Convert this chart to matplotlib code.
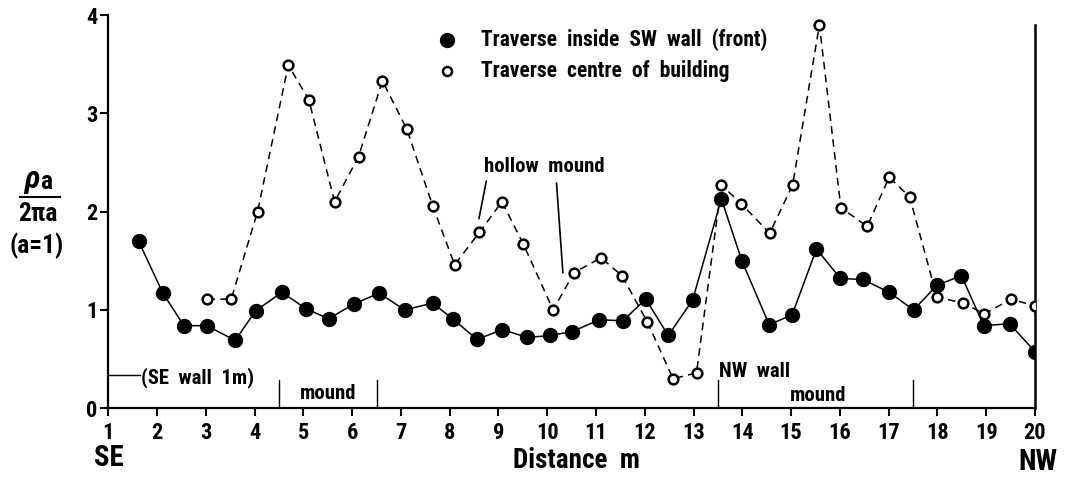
import matplotlib
matplotlib.use("Agg")
import matplotlib.pyplot as plt
from matplotlib import font_manager

# ---------------- data ----------------
front_x = [1.62, 2.12, 2.55, 3.02, 3.60, 4.02, 4.56, 5.06, 5.52, 6.03, 6.55, 7.08, 7.65,
           8.06, 8.56, 9.08, 9.59, 10.06, 10.51, 11.07, 11.55, 12.02, 12.48, 12.98, 13.57,
           13.99, 14.55, 15.02, 15.52, 16.01, 16.47, 17.01, 17.51, 17.99, 18.49, 18.95,
           19.48, 20.01]
front_y = [1.70, 1.17, 0.84, 0.84, 0.69, 0.99, 1.18, 1.01, 0.91, 1.06, 1.17, 1.00, 1.07,
           0.91, 0.70, 0.80, 0.72, 0.74, 0.78, 0.90, 0.89, 1.11, 0.74, 1.10, 2.13,
           1.50, 0.85, 0.95, 1.62, 1.32, 1.31, 1.18, 1.00, 1.25, 1.35, 0.84,
           0.86, 0.57]

centre_x = [3.03, 3.52, 4.06, 4.69, 5.11, 5.64, 6.13, 6.62, 7.12, 7.65, 8.10, 8.61, 9.07,
            9.51, 10.12, 10.55, 11.10, 11.53, 12.05, 12.58, 13.06, 13.57, 13.98, 14.56,
            15.03, 15.58, 16.02, 16.56, 17.01, 17.43, 17.99, 18.53, 18.96, 19.51, 20.00]
centre_y = [1.11, 1.11, 2.00, 3.49, 3.14, 2.10, 2.56, 3.33, 2.84, 2.06, 1.46, 1.79, 2.10,
            1.67, 1.00, 1.38, 1.53, 1.35, 0.88, 0.30, 0.36, 2.27, 2.08, 1.78,
            2.27, 3.90, 2.04, 1.85, 2.35, 2.15, 1.13, 1.07, 0.96, 1.11, 1.04]

x_ticks = list(range(1, 21))
y_ticks = [0, 1, 2, 3, 4]
legend_labels = ["Traverse  inside  SW  wall  (front)", "Traverse  centre  of  building"]

# ---------------- style ----------------
names = {f.name for f in font_manager.fontManager.ttflist}
condensed = "Roboto Condensed" in names
plt.rcParams['font.family'] = (['Roboto Condensed'] if condensed else []) + ['Roboto', 'DejaVu Sans']
plt.rcParams['font.weight'] = 'bold'
k = 1.15 if condensed else 1.0   # size factor

fig = plt.figure(figsize=(10.67, 4.8), dpi=100)
ax = fig.add_axes([0.1015, 0.1495, 0.8685, 0.8192])

ax.plot(centre_x, centre_y, color='black', lw=1.1, ls=(0, (5, 3.5)),
        marker='o', ms=7, mfc='white', mec='black', mew=1.8, zorder=3)
ax.plot(front_x, front_y, color='black', lw=1.1, ls='-',
        marker='o', ms=10, mfc='black', mec='black', zorder=4)

ax.set_xlim(1, 20)
ax.set_ylim(0, 4)
ax.set_xticks(x_ticks)
ax.set_yticks(y_ticks)
ax.tick_params(direction='out', length=6, width=1.5, labelsize=14 * k, pad=2)
ax.tick_params(axis='x', pad=4)
ax.spines['top'].set_visible(False)
for s in ['left', 'bottom', 'right']:
    ax.spines[s].set_linewidth(1.6)
ax.spines['right'].set_bounds(0, 3.9)
ax.spines['right'].set_linewidth(1.8)

# legend (drawn manually)
ax.plot([7.94], [3.75], 'o', ms=10, color='black', clip_on=False)
ax.plot([7.94], [3.43], 'o', ms=6.5, mfc='white', mec='black', mew=1.8, clip_on=False)
ax.text(8.65, 3.75, legend_labels[0], fontsize=13.5 * k, va='center', ha='left')
ax.text(8.65, 3.43, legend_labels[1], fontsize=13.5 * k, va='center', ha='left')

# annotations
ax.plot([1, 1.65], [0.34, 0.34], color='black', lw=1)
ax.text(1.68, 0.31, "(SE  wall  1m)", fontsize=13 * k, va='center', ha='left')
for xv in [4.5, 6.5, 13.5, 17.5]:
    ax.plot([xv, xv], [0, 0.29], color='black', lw=1)
ax.text(5.5, 0.15, "mound", fontsize=13 * k, va='center', ha='center')
ax.text(15.56, 0.13, "mound", fontsize=13 * k, va='center', ha='center')
ax.text(13.52, 0.37, "NW  wall", fontsize=13 * k, va='center', ha='left')
ax.text(8.7, 2.46, "hollow  mound", fontsize=13 * k, va='center', ha='left')
ax.plot([8.75, 8.60], [2.31, 1.93], color='black', lw=1.2)
ax.plot([10.19, 10.32], [2.29, 1.38], color='black', lw=1.2)

# axis labels
fig.text(576 / 1067, 1 - 461 / 480, "Distance  m", fontsize=17 * k, ha='center', va='center')
fig.text(109 / 1067, 1 - 458 / 480, "SE", fontsize=18 * k, ha='center', va='center')
fig.text(1038 / 1067, 1 - 462 / 480, "NW", fontsize=18 * k, ha='center', va='center')

fig.text(32 / 1067, 1 - 180 / 480, "ρ", fontsize=23, style='italic', ha='center', va='center')
fig.text(46 / 1067, 1 - 182 / 480, "a", fontsize=16 * k, ha='center', va='center')
fig.add_artist(plt.Line2D([20 / 1067, 60 / 1067], [1 - 197 / 480, 1 - 197 / 480],
                          color='black', lw=1.5))
fig.text(38 / 1067, 1 - 214 / 480, "2πa", fontsize=16 * k, ha='center', va='center')
fig.text(37 / 1067, 1 - 246 / 480, "(a=1)", fontsize=16 * k, ha='center', va='center')

fig.savefig("out.png", dpi=100)
